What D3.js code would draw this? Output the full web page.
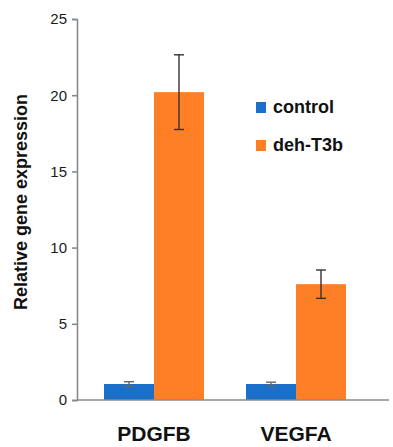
<!DOCTYPE html>
<html>
<head>
<meta charset="utf-8">
<script src="https://cdn.jsdelivr.net/npm/d3@7"></script>
<style>
  html, body { margin: 0; padding: 0; background: #fff; }
  svg { display: block; }
</style>
</head>
<body>
<div id="chart"></div>
<script>
// Gene expression data: two genes, two conditions, mean ± error
const genes = ["PDGFB", "VEGFA"];
const seriesNames = ["control", "deh-T3b"];
const controlValues = [1.05, 1.05];
const controlErrors = [0.15, 0.12];
const treatedValues = [20.2, 7.6];
const treatedErrors = [2.45, 0.93];
const yTicks = [0, 5, 10, 15, 20, 25];

const colors = { "control": "#1a70c9", "deh-T3b": "#ff7f27" };

const W = 393, H = 447;
const svg = d3.select("#chart").append("svg")
  .attr("width", W).attr("height", H);

const y = d3.scaleLinear().domain([0, 25]).range([400, 19]);

const x0 = d3.scaleBand().domain(genes)
  .range([83, 367]).paddingInner(0.296).paddingOuter(0.148);
const x1 = d3.scaleBand().domain(seriesNames)
  .range([0, x0.bandwidth()]).padding(0);

const rows = genes.map((g, i) => ({
  gene: g,
  bars: [
    { key: "control", value: controlValues[i], err: controlErrors[i] },
    { key: "deh-T3b", value: treatedValues[i], err: treatedErrors[i] }
  ]
}));

// Bars
const groups = svg.selectAll("g.gene").data(rows).join("g")
  .attr("class", "gene")
  .attr("transform", d => `translate(${x0(d.gene)},0)`);

groups.selectAll("rect").data(d => d.bars).join("rect")
  .attr("x", d => x1(d.key))
  .attr("width", x1.bandwidth())
  .attr("y", d => y(d.value))
  .attr("height", d => y(0) - y(d.value))
  .attr("fill", d => colors[d.key]);

// Error bars
const capW = 10;
const eb = groups.selectAll("g.err").data(d => d.bars).join("g")
  .attr("class", "err")
  .attr("stroke", d => d.key === "control" ? "#666" : "#333")
  .attr("stroke-width", 1.4);
eb.append("line")
  .attr("x1", d => x1(d.key) + x1.bandwidth() / 2)
  .attr("x2", d => x1(d.key) + x1.bandwidth() / 2)
  .attr("y1", d => y(d.value + d.err))
  .attr("y2", d => y(d.value - d.err));
eb.append("line")
  .attr("x1", d => x1(d.key) + x1.bandwidth() / 2 - capW / 2)
  .attr("x2", d => x1(d.key) + x1.bandwidth() / 2 + capW / 2)
  .attr("y1", d => y(d.value + d.err))
  .attr("y2", d => y(d.value + d.err));
eb.append("line")
  .attr("x1", d => x1(d.key) + x1.bandwidth() / 2 - capW / 2)
  .attr("x2", d => x1(d.key) + x1.bandwidth() / 2 + capW / 2)
  .attr("y1", d => y(d.value - d.err))
  .attr("y2", d => y(d.value - d.err));

// Y axis
const yAxis = svg.append("g")
  .attr("transform", "translate(77,0)")
  .call(d3.axisLeft(y).tickValues(yTicks).tickSize(5).tickPadding(5));
yAxis.select(".domain").attr("stroke", "#8a8a8a").attr("stroke-width", 1.6);
yAxis.selectAll(".tick line").attr("stroke", "#8a8a8a").attr("stroke-width", 1.6);
yAxis.selectAll(".tick text")
  .attr("font-family", "'Liberation Sans', Arial, sans-serif")
  .attr("font-size", 15).attr("fill", "#1a1a1a");

// X axis baseline and category labels
svg.append("line")
  .attr("x1", 77).attr("x2", 389)
  .attr("y1", y(0)).attr("y2", y(0))
  .attr("stroke", "#8a8a8a").attr("stroke-width", 1.6);

svg.selectAll("text.cat").data(genes).join("text")
  .attr("class", "cat")
  .attr("x", d => x0(d) + x0.bandwidth() / 2)
  .attr("y", 441)
  .attr("text-anchor", "middle")
  .attr("font-family", "'Liberation Sans', Arial, sans-serif")
  .attr("font-weight", "bold")
  .attr("font-size", 21)
  .attr("fill", "#111")
  .text(d => d);

// Y axis title
svg.append("text")
  .attr("transform", "translate(27,202) rotate(-90)")
  .attr("text-anchor", "middle")
  .attr("font-family", "'Liberation Sans', Arial, sans-serif")
  .attr("font-weight", "bold")
  .attr("font-size", 18)
  .attr("fill", "#111")
  .text("Relative gene expression");

// Legend
const legend = svg.selectAll("g.legend").data(seriesNames).join("g")
  .attr("class", "legend")
  .attr("transform", (d, i) => `translate(256,${102 + i * 38})`);
legend.append("rect")
  .attr("width", 10).attr("height", 11)
  .attr("fill", d => colors[d]);
legend.append("text")
  .attr("x", 17).attr("y", 11)
  .attr("font-family", "'Liberation Sans', Arial, sans-serif")
  .attr("font-weight", "bold")
  .attr("font-size", 18)
  .attr("fill", "#111")
  .text(d => d);
</script>
</body>
</html>
